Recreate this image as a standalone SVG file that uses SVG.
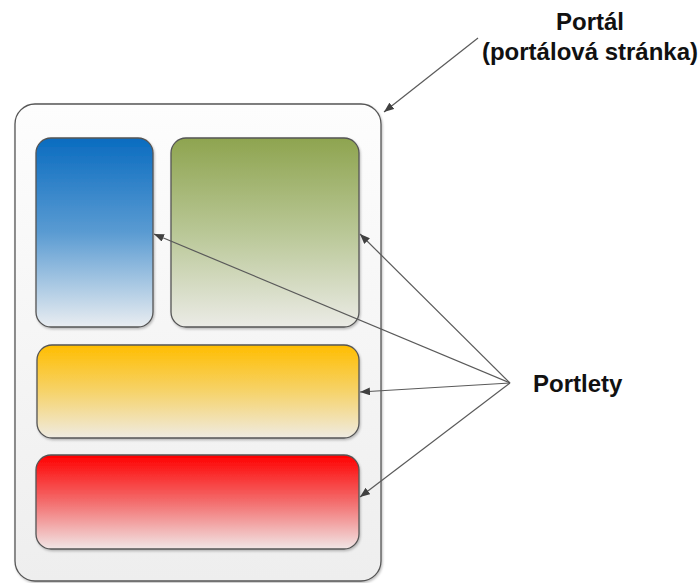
<svg xmlns="http://www.w3.org/2000/svg" width="699" height="583" viewBox="0 0 699 583">
  <defs>
    <linearGradient id="gPage" x1="0" y1="0" x2="0" y2="1">
      <stop offset="0" stop-color="#fdfdfd"/>
      <stop offset="1" stop-color="#eeeeee"/>
    </linearGradient>
    <linearGradient id="gBlue" x1="0" y1="0" x2="0" y2="1">
      <stop offset="0" stop-color="#0a6cc0"/>
      <stop offset="0.5" stop-color="#5a9bd2"/>
      <stop offset="1" stop-color="#e9edf1"/>
    </linearGradient>
    <linearGradient id="gGreen" x1="0" y1="0" x2="0" y2="1">
      <stop offset="0" stop-color="#8ea44f"/>
      <stop offset="0.5" stop-color="#b9c796"/>
      <stop offset="1" stop-color="#ebebe6"/>
    </linearGradient>
    <linearGradient id="gYellow" x1="0" y1="0" x2="0" y2="1">
      <stop offset="0" stop-color="#ffbd00"/>
      <stop offset="0.5" stop-color="#f6d36a"/>
      <stop offset="1" stop-color="#efebe2"/>
    </linearGradient>
    <linearGradient id="gRed" x1="0" y1="0" x2="0" y2="1">
      <stop offset="0" stop-color="#ff0000"/>
      <stop offset="0.5" stop-color="#f36d6d"/>
      <stop offset="1" stop-color="#f1e6e6"/>
    </linearGradient>
    <filter id="shadow" x="-10%" y="-10%" width="120%" height="120%">
      <feDropShadow dx="1" dy="1.5" stdDeviation="1.2" flood-color="#000" flood-opacity="0.25"/>
    </filter>
    <marker id="arrow" viewBox="0 0 10 8" refX="10" refY="4" markerWidth="10" markerHeight="8" markerUnits="userSpaceOnUse" orient="auto">
      <path d="M0,0 L10,4 L0,8 z" fill="#404040"/>
    </marker>
  </defs>
  <style>
    .box { stroke: #555555; stroke-width: 1.3; filter: url(#shadow); }
    .conn { stroke: #5a5a5a; stroke-width: 1.2; fill: none; marker-end: url(#arrow); }
    .label { font-family: "Liberation Sans", Arial, sans-serif; font-weight: bold; font-size: 24px; fill: #111111; }
  </style>

  <!-- portal page -->
  <g id="portal">
    <rect class="box" x="15" y="104" width="366" height="477" rx="20" ry="20" fill="url(#gPage)"/>
  </g>

  <!-- portlets -->
  <g id="portlet-blue">
    <rect class="box" x="36" y="138" width="117" height="189" rx="15" ry="15" fill="url(#gBlue)"/>
  </g>
  <g id="portlet-green">
    <rect class="box" x="171" y="138" width="188" height="189" rx="15" ry="15" fill="url(#gGreen)"/>
  </g>
  <g id="portlet-yellow">
    <rect class="box" x="37" y="345" width="322" height="93" rx="15" ry="15" fill="url(#gYellow)"/>
  </g>
  <g id="portlet-red">
    <rect class="box" x="36" y="455" width="323" height="94" rx="15" ry="15" fill="url(#gRed)"/>
  </g>

  <!-- connectors -->
  <g id="connectors">
    <line class="conn" x1="478" y1="38" x2="384" y2="112"/>
    <line class="conn" x1="510" y1="383" x2="154" y2="234"/>
    <line class="conn" x1="510" y1="383" x2="360" y2="234"/>
    <line class="conn" x1="510" y1="383" x2="360" y2="392"/>
    <line class="conn" x1="510" y1="383" x2="360" y2="497"/>
  </g>

  <!-- labels -->
  <g id="label-portal">
    <text class="label" x="590" y="30" text-anchor="middle">Portál</text>
    <text class="label" x="590" y="60" text-anchor="middle">(portálová stránka)</text>
  </g>
  <g id="label-portlets">
    <text class="label" x="533" y="392">Portlety</text>
  </g>
</svg>
